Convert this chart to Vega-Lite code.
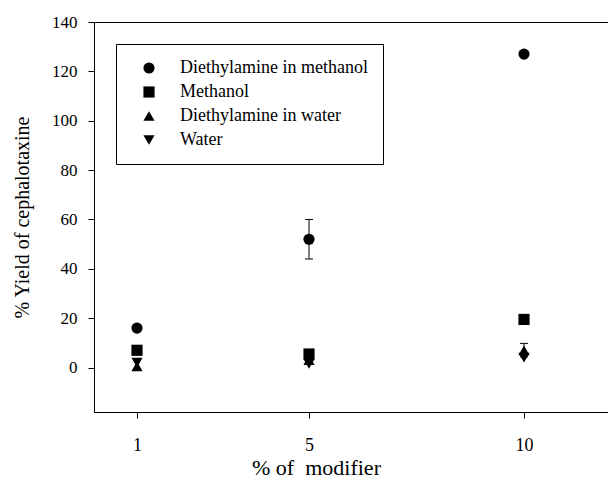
{
  "$schema": "https://vega.github.io/schema/vega-lite/v6.json",
  "width": 516,
  "height": 390,
  "autosize": {"type": "none"},
  "padding": {"left": 94, "top": 22, "right": 0, "bottom": 66},
  "background": "white",
  "config": {
    "view": {"stroke": "black", "strokeWidth": 1},
    "font": "Liberation Serif",
    "axis": {
      "domainColor": "black",
      "tickColor": "black",
      "labelColor": "black",
      "titleColor": "black",
      "grid": false,
      "labelFont": "Liberation Serif",
      "titleFont": "Liberation Serif",
      "titleFontWeight": "normal",
      "tickSize": 6
    }
  },
  "datasets": {
    "pts": [
      {"modifier": 1, "yield": 16, "series": "Diethylamine in methanol"},
      {"modifier": 1, "yield": 7, "series": "Methanol"},
      {"modifier": 1, "yield": 0.5, "series": "Diethylamine in water"},
      {"modifier": 1, "yield": 2, "series": "Water"},
      {"modifier": 5, "yield": 52, "series": "Diethylamine in methanol"},
      {"modifier": 5, "yield": 5.5, "series": "Methanol"},
      {"modifier": 5, "yield": 3, "series": "Diethylamine in water"},
      {"modifier": 5, "yield": 1.5, "series": "Water"},
      {"modifier": 10, "yield": 127, "series": "Diethylamine in methanol"},
      {"modifier": 10, "yield": 19.5, "series": "Methanol"},
      {"modifier": 10, "yield": 7, "series": "Diethylamine in water"},
      {"modifier": 10, "yield": 4, "series": "Water"}
    ],
    "err": [
      {"modifier": 5, "low": 44, "high": 60},
      {"modifier": 10, "low": 4.3, "high": 9.8}
    ]
  },
  "layer": [
    {
      "data": {"name": "pts"},
      "mark": {"type": "point", "filled": true, "size": 125, "color": "black", "opacity": 1},
      "encoding": {
        "x": {
          "field": "modifier",
          "type": "quantitative",
          "scale": {"domain": [0, 12], "nice": false, "zero": false},
          "title": "% of\u00a0 modifier",
          "axis": {
            "values": [1, 5, 10],
            "labelFont": "Liberation Serif",
            "labelFontSize": 18,
            "labelPadding": 18,
            "title": "% of\u00a0 modifier",
            "titleFontSize": 22,
            "titleX": 222,
            "titleY": 62,
            "titleAlign": "center",
            "titleBaseline": "alphabetic"
          }
        },
        "y": {
          "field": "yield",
          "type": "quantitative",
          "scale": {"domain": [-18, 140], "nice": false, "zero": false},
          "title": "% Yield of cephalotaxine",
          "axis": {
            "values": [0, 20, 40, 60, 80, 100, 120, 140],
            "labelFont": "Liberation Serif",
            "labelFontSize": 17,
            "labelPadding": 11,
            "title": "% Yield of cephalotaxine",
            "titleFontSize": 20,
            "titleX": -72,
            "titleY": 195,
            "titleAngle": -90,
            "titleAlign": "center",
            "titleBaseline": "middle"
          }
        },
        "shape": {
          "field": "series",
          "type": "nominal",
          "scale": {
            "domain": ["Diethylamine in methanol", "Methanol", "Diethylamine in water", "Water"],
            "range": ["circle", "square", "triangle-up", "triangle-down"]
          },
          "legend": {
            "title": null,
            "orient": "none",
            "legendX": 22,
            "legendY": 22,
            "strokeColor": "black",
            "fillColor": "white",
            "padding": 15,
            "labelFontSize": 18,
            "labelFont": "Liberation Serif",
            "labelColor": "black",
            "labelLimit": 400,
            "symbolSize": 125,
            "symbolFillColor": "black",
            "symbolStrokeColor": "black",
            "symbolOpacity": 1,
            "rowPadding": 6,
            "labelOffset": 22,
            "symbolOffset": 9
          }
        }
      }
    },
    {
      "data": {"name": "err"},
      "mark": {"type": "rule", "color": "black", "strokeWidth": 1},
      "encoding": {
        "x": {"field": "modifier", "type": "quantitative", "title": "% of\u00a0 modifier"},
        "y": {"field": "low", "type": "quantitative", "title": "% Yield of cephalotaxine"},
        "y2": {"field": "high"}
      }
    },
    {
      "data": {"name": "err"},
      "mark": {"type": "tick", "orient": "horizontal", "size": 8, "thickness": 1, "color": "black", "opacity": 1},
      "encoding": {
        "x": {"field": "modifier", "type": "quantitative", "title": "% of\u00a0 modifier"},
        "y": {"field": "low", "type": "quantitative", "title": "% Yield of cephalotaxine"}
      }
    },
    {
      "data": {"name": "err"},
      "mark": {"type": "tick", "orient": "horizontal", "size": 8, "thickness": 1, "color": "black", "opacity": 1},
      "encoding": {
        "x": {"field": "modifier", "type": "quantitative", "title": "% of\u00a0 modifier"},
        "y": {"field": "high", "type": "quantitative", "title": "% Yield of cephalotaxine"}
      }
    }
  ]
}
